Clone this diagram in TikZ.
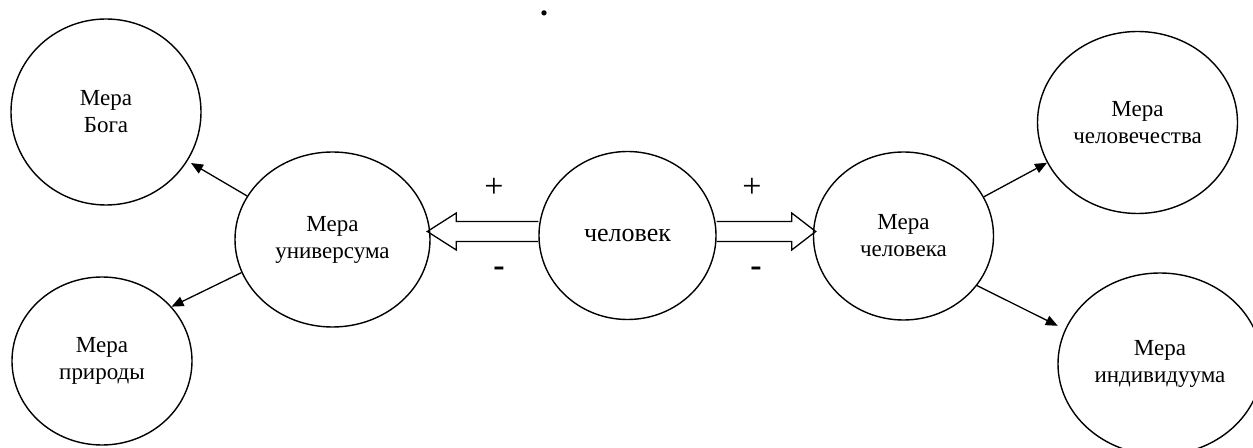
\documentclass[tikz,border=0pt]{standalone}
\usepackage{fontspec}
\setmainfont{Liberation Serif}
\usetikzlibrary{shapes.geometric,arrows.meta,calc}
\begin{document}
\begin{tikzpicture}[x=0.5pt,y=-0.5pt,
  circ/.style={draw, ellipse, line width=0.7pt, inner sep=0pt, align=center,
    font=\fontsize{11.5}{13.5}\selectfont},
  arr/.style={line width=0.65pt, -{Triangle[length=6pt,width=5pt]}},
  hollow/.style={line width=0.65pt, line join=miter},
  sign/.style={inner sep=0pt, font=\fontsize{17}{17}\selectfont}]
\useasboundingbox (0,0) rectangle (1253,448);
% circles
\node[circ, minimum width=95pt, minimum height=93pt] (bog) at (106,112) {Мера\\Бога};
\node[circ, minimum width=90pt, minimum height=84pt] (prir) at (102,361) {Мера\\природы};
\node[circ, minimum width=97.5pt, minimum height=87.5pt] (univ) at (332.5,239.5) {Мера\\универсума};
\node[circ, minimum width=88.5pt, minimum height=84pt, font=\fontsize{13}{15}\selectfont] (chel) at (627.5,235.5) {человек};
\node[circ, minimum width=90pt, minimum height=84pt] (mchel) at (903.5,236) {Мера\\человека};
\node[circ, minimum width=100pt, minimum height=91pt] (human) at (1137.5,122.5) {Мера\\человечества};
\node[circ, minimum width=102pt, minimum height=91pt] (indiv) at (1160,364) {Мера\\индивидуума};
% thin arrows
\draw[arr, shorten >=2pt] (univ.153) -- (bog.-31);
\draw[arr] (univ.200) -- (prir.38);
\draw[arr] (mchel.26) -- (human.204);
\draw[arr, shorten >=4pt] (mchel.-34) -- (indiv.160);
% hollow block arrows
\draw[hollow] ($(chel.west)+(0,-14)$) -- ++(-82,0) -- ++(0,-8.5) -- ++(-29,18.5)
  -- ++(29,18.5) -- ++(0,-8.5) -- ++(82,0);
\draw[hollow] ($(chel.east)+(0,-14)$) -- ++(75,0) -- ++(0,-8.5) -- ++(24,18.5)
  -- ++(-24,18.5) -- ++(0,-8.5) -- ++(-75,0);
% signs
\node[sign] (pl) at (494,188) {+};
\node[sign] (pr) at (752,188) {+};
\node[sign, font=\fontsize{17}{17}\selectfont\bfseries] (ml) at (499,272) {-};
\node[sign, font=\fontsize{17}{17}\selectfont\bfseries] (mr) at (756,272) {-};
% stray dot
\node[inner sep=0pt, font=\fontsize{16}{16}\selectfont\bfseries] (dot) at (544,13) {.};
\end{tikzpicture}
\end{document}
